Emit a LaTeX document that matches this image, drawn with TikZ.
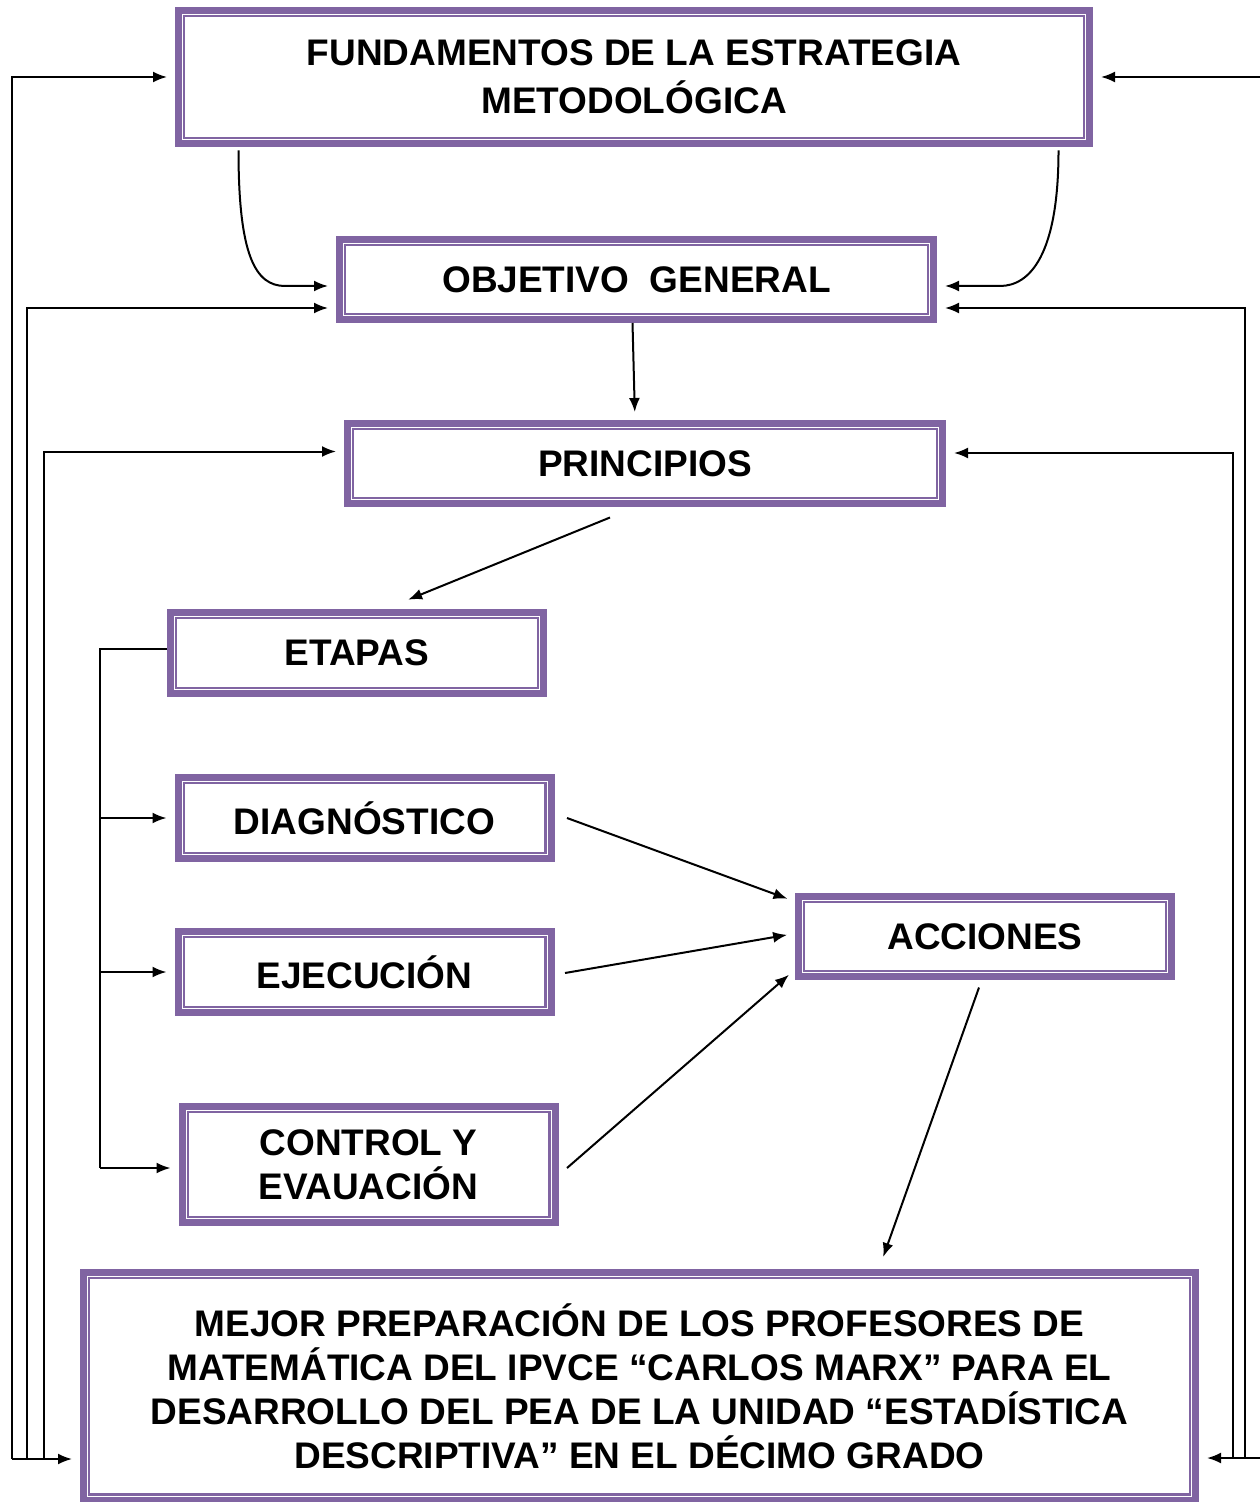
\documentclass[tikz,border=0pt]{standalone}
\usepackage{fontspec}
\setmainfont{Liberation Sans}
\usetikzlibrary{arrows.meta}

\definecolor{boxpurple}{RGB}{128,100,162}

\tikzset{
	box/.style={draw=boxpurple, line width=3.5pt, fill=white, inner sep=0pt, align=center,
		font=\bfseries\fontsize{18.5}{22}\selectfont},
	innerbox/.style={draw=boxpurple, line width=1.2pt},
	link/.style={line width=1pt},
	arr/.style={link, -{Latex[length=7pt,width=5.5pt]}, shorten >=4pt}
}

\begin{document}
\begin{tikzpicture}[x=0.5pt, y=-0.5pt]
	\useasboundingbox (0,0) rectangle (1259,1502);

	\node[box, minimum width=455.5pt, minimum height=66.5pt]	(fund)	at (634,77)		{FUNDAMENTOS DE LA ESTRATEGIA\\[2pt] METODOLÓGICA};
	\node[box, minimum width=297pt, minimum height=40pt]		(obj)	at (636.5,279.5)	{OBJETIVO\ \ GENERAL};
	\node[box, minimum width=297.5pt, minimum height=40pt]		(prin)	at (645,463.5)	{PRINCIPIOS};
	\node[box, minimum width=186.5pt, minimum height=40.5pt]	(etap)	at (357,653)		{ETAPAS};
	\node[box, minimum width=186.5pt, minimum height=40.5pt]	(diag)	at (364.5,818)	{DIAGNÓSTICO};
	\node[box, minimum width=186.5pt, minimum height=40.5pt]	(ejec)	at (364.5,972)	{EJECUCIÓN};
	\node[box, minimum width=186.5pt, minimum height=58pt]		(ctrl)	at (368.5,1164.5)	{CONTROL Y\\ EVAUACIÓN};
	\node[box, minimum width=186.5pt, minimum height=40pt]		(acc)	at (985,936.5)	{ACCIONES};
	\node[box, minimum width=556pt, minimum height=114pt]		(mejor)	at (639.5,1386)	{MEJOR PREPARACIÓN DE LOS PROFESORES DE\\ MATEMÁTICA DEL IPVCE “CARLOS MARX” PARA EL\\ DESARROLLO DEL PEA DE LA UNIDAD “ESTADÍSTICA\\ DESCRIPTIVA” EN EL DÉCIMO GRADO};

	% linea interior de cada recuadro
	\draw[innerbox] ([xshift=4.6pt,yshift=-4.6pt]fund.north west) rectangle ([xshift=-4.6pt,yshift=4.6pt]fund.south east);
	\draw[innerbox] ([xshift=4.6pt,yshift=-4.6pt]obj.north west) rectangle ([xshift=-4.6pt,yshift=4.6pt]obj.south east);
	\draw[innerbox] ([xshift=4.6pt,yshift=-4.6pt]prin.north west) rectangle ([xshift=-4.6pt,yshift=4.6pt]prin.south east);
	\draw[innerbox] ([xshift=4.6pt,yshift=-4.6pt]etap.north west) rectangle ([xshift=-4.6pt,yshift=4.6pt]etap.south east);
	\draw[innerbox] ([xshift=4.6pt,yshift=-4.6pt]diag.north west) rectangle ([xshift=-4.6pt,yshift=4.6pt]diag.south east);
	\draw[innerbox] ([xshift=4.6pt,yshift=-4.6pt]ejec.north west) rectangle ([xshift=-4.6pt,yshift=4.6pt]ejec.south east);
	\draw[innerbox] ([xshift=4.6pt,yshift=-4.6pt]ctrl.north west) rectangle ([xshift=-4.6pt,yshift=4.6pt]ctrl.south east);
	\draw[innerbox] ([xshift=4.6pt,yshift=-4.6pt]acc.north west) rectangle ([xshift=-4.6pt,yshift=4.6pt]acc.south east);
	\draw[innerbox] ([xshift=4.6pt,yshift=-4.6pt]mejor.north west) rectangle ([xshift=-4.6pt,yshift=4.6pt]mejor.south east);

	\coordinate (curvl) at (285,286);
	\coordinate (curvr) at (1000,286);
	\coordinate (fl1) at (12,1459);
	\coordinate (fl2) at (27,1459);
	\coordinate (fl3) at (44,1459);
	\coordinate (fr1) at (1262,1458);
	\coordinate (fr2) at (1245,1458);
	\coordinate (fr3) at (1233,1458);
	\coordinate (eb) at (100,1168);

	% fundamentos -> objetivo
	\draw[arr] ([shift={(31.75pt,-1.75pt)}]fund.south west) .. controls +(0,-52pt) and +(-15pt,0) .. (curvl) -- ([yshift=-3.25pt]obj.west);
	\draw[arr] ([shift={(-17.25pt,-1.75pt)}]fund.south east) .. controls +(0,-52pt) and +(15pt,0) .. (curvr) -- ([yshift=-3.25pt]obj.east);

	\draw[arr] ([xshift=-2pt]obj.south) -- ([xshift=-5pt]prin.north);
	\draw[arr] ([shift={(-17.5pt,-5.25pt)}]prin.south) -- ([shift={(21.85pt,3.15pt)}]etap.north);

	% etapas
	\draw[link] ([yshift=2pt]etap.west) -| (eb);
	\draw[arr] (eb |- diag.west) -- (diag.west);
	\draw[arr] (eb |- ejec.west) -- (ejec.west);
	\draw[arr] (eb) -- (ctrl.west |- eb);

	\draw[arr] ([xshift=6.25pt]diag.east) -- ([yshift=17.5pt]acc.west);
	\draw[arr] ([shift={(5.25pt,-0.5pt)}]ejec.east) -- ([yshift=1.5pt]acc.west);
	\draw[arr] ([shift={(4.25pt,-1.75pt)}]ctrl.east) -- ([yshift=-16.5pt]acc.west);
	\draw[arr] ([shift={(-3pt,-3.75pt)}]acc.south) -- ([shift={(120.5pt,2pt)}]mejor.north);

	% retroalimentacion
	\draw[arr] (fl1) |- (fund.west);
	\draw[arr] (fl2) |- ([yshift=-14.25pt]obj.west);
	\draw[arr] (fl3) |- ([yshift=6pt]prin.west);
	\draw[arr] (fl1) -- (mejor.west |- fl1);
	\draw[arr] (fr1) |- (fund.east);
	\draw[arr] (fr2) |- ([yshift=-14.25pt]obj.east);
	\draw[arr] (fr3) |- ([yshift=5.25pt]prin.east);
	\draw[arr] (fr1) -- (mejor.east |- fr1);
\end{tikzpicture}
\end{document}
